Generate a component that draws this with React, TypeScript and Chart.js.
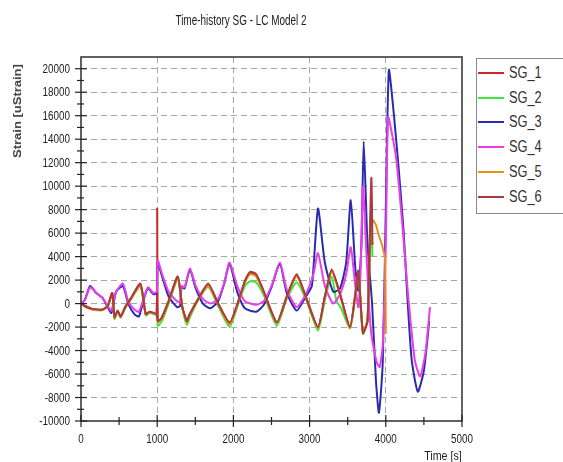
import React, { useEffect, useRef } from 'react';
import { Chart, registerables } from 'chart.js';

Chart.register(...registerables);

// ---------- data ----------
const titleText = 'Time-history SG - LC Model 2';
const xAxisTitle = 'Time [s]';
const yAxisTitle = 'Strain [uStrain]';

const seriesNames = ['SG_1', 'SG_2', 'SG_3', 'SG_4', 'SG_5', 'SG_6'];
const seriesColors = ['#c8282d', '#3ee63e', '#2b2bb0', '#e83ee8', '#e8901e', '#a83c3c'];

const xTickValues = [0, 1000, 2000, 3000, 4000, 5000];
const xMinorValues = [500, 1500, 2500, 3500, 4500];
const yTickValues = [-10000, -8000, -6000, -4000, -2000, 0, 2000, 4000, 6000, 8000, 10000, 12000, 14000, 16000, 18000, 20000];
const yMinorValues = [-9000, -7000, -5000, -3000, -1000, 1000, 3000, 5000, 7000, 9000, 11000, 13000, 15000, 17000, 19000];

const sg1Time = [0, 60, 150, 280, 350, 410, 440, 480, 520, 580, 650, 780, 850, 900, 990, 1000, 1010, 1060, 1150, 1270, 1330, 1390, 1420, 1530, 1670, 1800, 1950, 2050, 2150, 2220, 2300, 2400, 2570, 2700, 2830, 2950, 3110, 3200, 3290, 3400, 3530, 3600, 3640, 3700, 3760, 3800, 3825];
const sg1Strain = [0, -200, -450, -500, -200, 900, -1200, -600, -1100, -300, 400, 1600, -900, -700, -900, 8100, -1500, -1200, 200, 2300, -300, -1500, -1000, 300, 1600, 0, -1700, -100, 1900, 2600, 2400, 1000, -1600, 600, 2400, 600, -2000, 600, 2800, 800, -2000, 800, 2700, -2400, -1500, 6000, 5000];

const sg2Time = [0, 60, 150, 280, 350, 410, 440, 480, 520, 580, 650, 780, 850, 900, 990, 1010, 1060, 1150, 1270, 1330, 1390, 1420, 1530, 1670, 1800, 1950, 2050, 2150, 2220, 2300, 2400, 2570, 2700, 2830, 2950, 3110, 3200, 3290, 3350, 3420, 3530, 3600, 3640, 3700, 3760, 3800, 3825];
const sg2Strain = [0, -250, -500, -550, -250, 800, -1300, -700, -1200, -400, 300, 1500, -1000, -800, -1000, -1900, -1500, 0, 2100, -400, -1800, -1300, 200, 1400, -200, -2000, -300, 1500, 1900, 1800, 700, -1900, 400, 1800, 400, -2300, 300, 2300, 300, -500, -2100, 600, 2400, -2600, -1200, 7800, 4000];

const sg3Time = [0, 50, 120, 200, 280, 350, 400, 460, 550, 620, 700, 760, 830, 880, 950, 995, 1005, 1060, 1150, 1260, 1300, 1320, 1360, 1430, 1500, 1600, 1700, 1800, 1880, 1950, 2050, 2150, 2300, 2400, 2500, 2610, 2700, 2830, 2950, 3030, 3110, 3200, 3310, 3400, 3480, 3540, 3600, 3640, 3680, 3710, 3760, 3820, 3870, 3910, 3960, 4000, 4040, 4100, 4160, 4230, 4280, 4340, 4420, 4500, 4570];
const sg3Strain = [0, 300, 1500, 900, 500, -300, -800, 1000, 1500, 0, -900, -1100, 500, 1300, 800, 900, 3500, 2400, 600, -300, -200, 1400, 1300, 2900, 1400, 0, -400, 200, 1700, 3400, 1000, -400, -700, -100, 1400, 3400, 900, -600, 600, 1500, 8100, 3500, 1000, 1300, 3500, 8800, 3000, 1100, 5000, 13800, 5000, 0, -6500, -9300, -5000, 8000, 19900, 16500, 12200, 6500, 900, -4800, -7500, -5700, -1500];

const sg4Time = [0, 50, 120, 200, 280, 350, 400, 460, 550, 620, 700, 760, 830, 880, 950, 995, 1005, 1060, 1150, 1260, 1300, 1320, 1360, 1430, 1500, 1600, 1700, 1800, 1880, 1950, 2050, 2150, 2300, 2400, 2500, 2610, 2700, 2830, 2950, 3050, 3110, 3200, 3310, 3400, 3480, 3540, 3600, 3640, 3670, 3700, 3740, 3800, 3880, 3920, 3960, 4000, 4030, 4080, 4140, 4220, 4290, 4380, 4450, 4520, 4580];
const sg4Strain = [0, 300, 1400, 900, 500, -200, -600, 1000, 1700, 200, -500, -700, 600, 1400, 900, 1000, 3700, 2600, 1000, 200, 100, 1500, 1400, 3000, 1600, 400, 0, 400, 1800, 3500, 1500, 200, -100, 200, 1500, 3500, 1200, -300, 800, 2500, 4300, 1500, 0, 800, 2500, 4800, 1500, -300, 3000, 10000, 5000, -2000, -5000, -5400, -3500, 5000, 15900, 14500, 12200, 6500, 900, -4800, -6200, -4200, -300];

const sg5Time = [0, 60, 150, 280, 350, 410, 440, 480, 520, 580, 650, 780, 850, 900, 990, 1010, 1060, 1150, 1270, 1330, 1390, 1420, 1530, 1670, 1800, 1950, 2050, 2150, 2220, 2300, 2400, 2570, 2700, 2830, 2950, 3110, 3200, 3290, 3400, 3530, 3600, 3640, 3700, 3760, 3800, 3830, 3870, 3900, 3950, 3990, 4000];
const sg5Strain = [0, -300, -500, -550, -250, 850, -1250, -650, -1150, -350, 350, 1500, -950, -750, -950, -1600, -1300, 100, 2200, -350, -1600, -1100, 250, 1500, -100, -1800, -200, 1800, 2500, 2300, 900, -1700, 500, 2300, 500, -2100, 500, 2700, 700, -2100, 700, 2600, -2500, -1400, 6000, 7100, 6700, 6000, 5000, 3800, -2600];

const sg6Time = [0, 60, 150, 280, 350, 410, 440, 480, 520, 580, 650, 780, 850, 900, 990, 1010, 1060, 1150, 1270, 1330, 1390, 1420, 1530, 1670, 1800, 1950, 2050, 2150, 2220, 2300, 2400, 2570, 2700, 2830, 2950, 3110, 3200, 3290, 3400, 3530, 3600, 3640, 3700, 3760, 3810, 3825];
const sg6Strain = [0, -250, -450, -500, -200, 900, -1150, -600, -1100, -300, 400, 1700, -900, -700, -900, -1500, -1200, 200, 2300, -300, -1500, -1000, 300, 1700, 0, -1600, -100, 1900, 2700, 2500, 1000, -1600, 600, 2500, 600, -2000, 600, 2900, 800, -2000, 800, 2800, -2500, -1500, 10700, 5000];

const seriesTimes = [sg1Time, sg2Time, sg3Time, sg4Time, sg5Time, sg6Time];
const seriesValues = [sg1Strain, sg2Strain, sg3Strain, sg4Strain, sg5Strain, sg6Strain];

// ---------- styling ----------
const FONT = '"Liberation Sans", Arial, sans-serif';
const SQUEEZE = 0.76;

const axisDecor = {
  id: 'axisDecor',
  afterDraw(chart: any) {
    const { ctx, chartArea: a, scales } = chart;
    ctx.save();
    ctx.strokeStyle = '#3a3a3a';
    ctx.lineWidth = 1.6;
    ctx.strokeRect(a.left, a.top, a.right - a.left, a.bottom - a.top);
    ctx.strokeStyle = '#222';
    ctx.lineWidth = 1.2;
    const line = (x1: number, y1: number, x2: number, y2: number) => {
      ctx.beginPath();
      ctx.moveTo(x1, y1);
      ctx.lineTo(x2, y2);
      ctx.stroke();
    };
    for (const v of yTickValues) {
      const y = scales.y.getPixelForValue(v);
      line(a.left - 6, y, a.left + 6, y);
    }
    for (const v of yMinorValues) {
      const y = scales.y.getPixelForValue(v);
      line(a.left - 4, y, a.left + 3, y);
    }
    for (const v of xTickValues) {
      const x = scales.x.getPixelForValue(v);
      line(x, a.bottom - 6, x, a.bottom + 6);
    }
    for (const v of xMinorValues) {
      const x = scales.x.getPixelForValue(v);
      line(x, a.bottom - 4, x, a.bottom + 4);
    }
    // tick labels (horizontally condensed like the original)
    ctx.fillStyle = '#222';
    ctx.font = `13px ${FONT}`;
    ctx.textAlign = 'right';
    ctx.textBaseline = 'middle';
    for (const v of yTickValues) {
      const y = scales.y.getPixelForValue(v);
      ctx.save();
      ctx.translate(a.left - 11, y + 0.5);
      ctx.scale(SQUEEZE, 1);
      ctx.fillText(String(v), 0, 0);
      ctx.restore();
    }
    ctx.textAlign = 'center';
    ctx.textBaseline = 'alphabetic';
    for (const v of xTickValues) {
      const x = scales.x.getPixelForValue(v);
      ctx.save();
      ctx.translate(x, a.bottom + 22);
      ctx.scale(SQUEEZE, 1);
      ctx.fillText(String(v), 0, 0);
      ctx.restore();
    }
    ctx.restore();
  },
};

export default function App() {
  const canvasRef = useRef<HTMLCanvasElement | null>(null);

  useEffect(() => {
    if (!canvasRef.current) return;
    const datasets = seriesNames.map((name, i) => ({
      label: name,
      data: seriesTimes[i].map((t, j) => ({ x: t, y: seriesValues[i][j] })),
      borderColor: seriesColors[i],
      backgroundColor: seriesColors[i],
      borderWidth: 2,
      pointRadius: 0,
      tension: 0.2,
      fill: false,
      order: seriesNames.length - i,
    }));
    const chart = new Chart(canvasRef.current, {
      type: 'line',
      data: { datasets },
      plugins: [axisDecor],
      options: {
        animation: false,
        responsive: true,
        maintainAspectRatio: false,
        parsing: false as any,
        layout: { padding: { top: 57, right: 101, left: 0, bottom: 0 } },
        plugins: { legend: { display: false }, title: { display: false }, tooltip: { enabled: false } },
        scales: {
          x: {
            type: 'linear',
            min: 0,
            max: 5000,
            afterFit: (s: any) => { s.height = 41; },
            afterBuildTicks: (s: any) => { s.ticks = xTickValues.map((value) => ({ value })); },
            ticks: { display: false },
            grid: {
              drawTicks: false,
              color: (c: any) => (c.tick && (c.tick.value === 0 || c.tick.value === 5000) ? 'rgba(0,0,0,0)' : '#a8a8a8'),
              lineWidth: 1,
            },
            border: { display: false, dash: [6, 4] },
          },
          y: {
            type: 'linear',
            min: -10000,
            max: 21000,
            afterFit: (s: any) => { s.width = 81; },
            afterBuildTicks: (s: any) => { s.ticks = yTickValues.map((value) => ({ value })); },
            ticks: { display: false },
            grid: {
              drawTicks: false,
              color: (c: any) => (c.tick && c.tick.value === -10000 ? 'rgba(0,0,0,0)' : '#a8a8a8'),
              lineWidth: 1,
            },
            border: { display: false, dash: [6, 4] },
          },
        },
      } as any,
    });
    return () => chart.destroy();
  }, []);

  const textBase: React.CSSProperties = { position: 'absolute', fontFamily: FONT, color: '#222', whiteSpace: 'nowrap', lineHeight: 1 };

  return (
    <div style={{ position: 'fixed', left: 0, top: 0, width: 563, height: 462, background: '#fff', overflow: 'hidden' }}>
      <canvas ref={canvasRef} style={{ position: 'absolute', left: 0, top: 0 }} />
      <div style={{ ...textBase, left: 241, top: 13, fontSize: 14, transform: 'translateX(-50%) scaleX(0.71)' }}>{titleText}</div>
      <div style={{ ...textBase, left: 17, top: 111, fontSize: 13, fontWeight: 'bold', color: '#444', transform: 'translate(-50%, -50%) rotate(-90deg) scaleY(0.8)' }}>{yAxisTitle}</div>
      <div style={{ ...textBase, right: 563 - 462, top: 449, fontSize: 13, transform: 'scaleX(0.82)', transformOrigin: 'right center' }}>{xAxisTitle}</div>
      <div style={{ position: 'absolute', left: 476, top: 58, width: 110, height: 154, border: '1px solid #8a8a8a', background: '#fff' }}>
        {seriesNames.map((name, i) => (
          <div key={name} style={{ position: 'absolute', left: 1, top: 6 + i * 24.7, height: 16, display: 'flex', alignItems: 'center' }}>
            <div style={{ width: 26, height: 2, background: seriesColors[i] }} />
            <span style={{ marginLeft: 5, fontFamily: FONT, fontSize: 16, color: '#333', lineHeight: 1, display: 'inline-block', transform: 'scaleX(0.8)', transformOrigin: 'left center' }}>{name}</span>
          </div>
        ))}
      </div>
    </div>
  );
}
